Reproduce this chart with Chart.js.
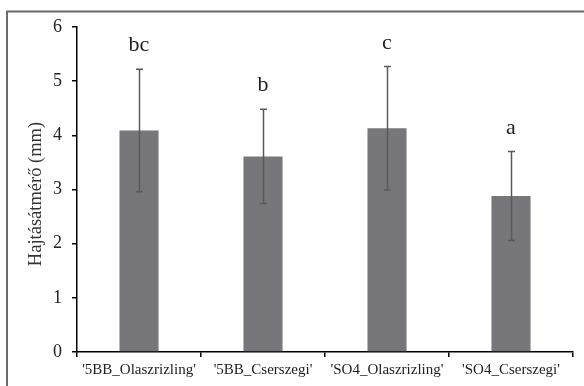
<!DOCTYPE html>
<html>
<head>
<meta charset="utf-8">
<script src="https://cdn.jsdelivr.net/npm/chart.js@4"></script>
<style>
html,body{margin:0;padding:0;background:#fff;}
#wrap{width:584px;height:386px;position:relative;}
</style>
</head>
<body>
<div id="wrap"><canvas id="c" width="584" height="386"></canvas></div>
<script>
const categories = ["'5BB_Olaszrizling'", "'5BB_Cserszegi'", "'SO4_Olaszrizling'", "'SO4_Cserszegi'"];
const means = [4.09, 3.61, 4.13, 2.88];
const errors = [1.13, 0.87, 1.14, 0.82];
const letters = ["bc", "b", "c", "a"];
const yTicks = [0, 1, 2, 3, 4, 5, 6];
const yTitle = "Hajtásátmérő (mm)";

const SERIF = "'Liberation Serif', 'DejaVu Serif', serif";

const framePlugin = {
  id: 'frame',
  beforeDraw(chart) {
    const ctx = chart.ctx;
    ctx.save();
    ctx.fillStyle = '#fff';
    ctx.fillRect(0, 0, chart.width, chart.height);
    ctx.strokeStyle = '#6a6a6a';
    ctx.lineWidth = 2;
    ctx.beginPath();
    ctx.moveTo(7, chart.height);
    ctx.lineTo(7, 11.5);
    ctx.lineTo(chart.width, 11.5);
    ctx.stroke();
    // y title
    ctx.fillStyle = '#333';
    ctx.font = '18.5px ' + SERIF;
    ctx.textAlign = 'center';
    ctx.textBaseline = 'middle';
    ctx.translate(36, 194);
    ctx.rotate(-Math.PI / 2);
    ctx.fillText(yTitle, 0, 0);
    ctx.restore();
  }
};

const errPlugin = {
  id: 'errbars',
  afterDatasetsDraw(chart) {
    const ctx = chart.ctx;
    const meta = chart.getDatasetMeta(0);
    const y = chart.scales.y;
    ctx.save();
    ctx.strokeStyle = '#5a5a5a';
    ctx.lineWidth = 1.5;
    meta.data.forEach((bar, i) => {
      const x = Math.round(bar.x) + 0.5;
      const yTop = y.getPixelForValue(means[i] + errors[i]);
      const yBot = y.getPixelForValue(means[i] - errors[i]);
      ctx.beginPath();
      ctx.moveTo(x, yTop);
      ctx.lineTo(x, yBot);
      ctx.moveTo(x - 3.5, yTop);
      ctx.lineTo(x + 3.5, yTop);
      ctx.moveTo(x - 3.5, yBot);
      ctx.lineTo(x + 3.5, yBot);
      ctx.stroke();
      ctx.fillStyle = '#222';
      ctx.font = '22px ' + SERIF;
      ctx.textAlign = 'center';
      ctx.textBaseline = 'alphabetic';
      ctx.fillText(letters[i], bar.x, yTop - 18);
    });
    ctx.restore();
  }
};

new Chart(document.getElementById('c'), {
  type: 'bar',
  data: {
    labels: categories,
    datasets: [{
      data: means,
      backgroundColor: '#77777b',
      borderWidth: 0,
      categoryPercentage: 1,
      barPercentage: 0.315
    }]
  },
  options: {
    responsive: false,
    animation: false,
    devicePixelRatio: 1,
    layout: { padding: { left: 0, right: 11, top: 27, bottom: 0 } },
    plugins: { legend: { display: false }, tooltip: { enabled: false } },
    scales: {
      x: {
        offset: true,
        grid: { offset: true, drawOnChartArea: false, drawTicks: true, tickLength: 5, color: '#000', lineWidth: 1.5 },
        border: { display: true, color: '#000', width: 1.5 },
        ticks: { color: '#222', font: { family: SERIF, size: 15 }, padding: 4, maxRotation: 0, autoSkip: false },
        afterFit(s) { s.height = 34; }
      },
      y: {
        min: 0, max: 6,
        afterBuildTicks(s) { s.ticks = yTicks.map(v => ({ value: v })); },
        grid: { drawOnChartArea: false, drawTicks: true, tickLength: 5, color: '#000', lineWidth: 1.5 },
        border: { display: true, color: '#000', width: 1.5 },
        ticks: { color: '#222', font: { family: SERIF, size: 18 }, padding: 10 },
        afterFit(s) { s.width = 77; }
      }
    }
  },
  plugins: [framePlugin, errPlugin]
});
</script>
</body>
</html>
